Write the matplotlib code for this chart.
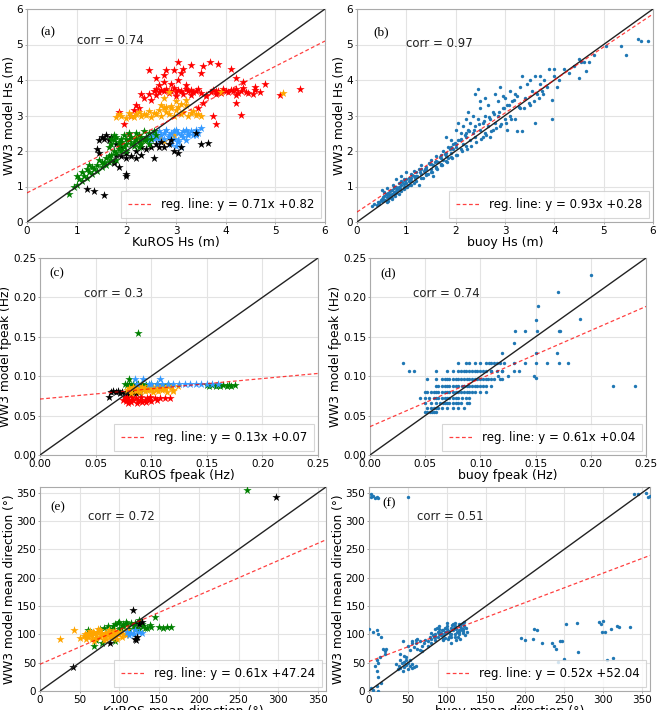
import matplotlib
matplotlib.use("Agg")
import matplotlib.pyplot as plt
import numpy as np

# ---------------- Panel (a): KuROS Hs vs WW3 Hs (five groups) ----------------
a_red_x = [2.45,2.55,2.6,2.65,2.7,2.75,2.8,2.85,2.9,2.95,3.0,3.05,3.1,3.15,3.2,3.25,3.3,3.35,3.4,3.45,3.5,3.6,3.7,3.75,3.8,3.85,3.9,3.95,4.0,4.05,4.1,4.15,4.2,4.25,4.3,4.35,4.4,4.45,
           2.6,3.0,3.3,3.8,4.2,
           2.45,2.6,2.75,2.8,2.95,3.05,3.1,3.15,3.05,3.3,3.5,3.55,3.68,3.85,4.1,4.2,4.35,4.6,4.8,2.75,2.65,2.3,2.35,2.5,2.2,2.25,1.85,1.95,2.15,2.1,2.05,3.55,3.45,4.2,4.3,3.75,3.8,5.1,5.5,4.6,4.7,4.55,3.2,2.9,3.6]
a_red_y = [3.6,3.7,3.75,3.65,3.72,3.68,3.75,3.62,3.7,3.78,3.66,3.72,3.7,3.6,3.76,3.68,3.72,3.65,3.7,3.74,3.62,3.58,3.66,3.72,3.68,3.7,3.64,3.76,3.7,3.66,3.72,3.68,3.74,3.62,3.7,3.78,3.66,3.64,
           3.58,3.56,3.58,3.6,3.58,
           4.28,4.05,4.15,4.28,4.28,4.52,4.2,4.3,4.0,4.42,4.2,4.4,4.52,4.45,4.3,4.05,3.95,3.8,3.9,3.95,3.85,3.6,3.5,3.45,3.3,3.2,3.1,2.75,3.15,3.0,2.48,3.35,3.2,3.35,3.02,2.98,2.75,3.58,3.75,3.72,3.65,3.6,3.85,3.9,3.55]
a_org_x = [1.8,1.85,1.9,2.0,2.05,2.1,2.15,2.2,2.25,2.3,2.35,2.4,2.45,2.5,2.55,2.6,2.65,2.7,2.75,2.8,2.85,2.9,2.95,3.0,3.05,3.1,3.15,3.2,3.25,3.3,3.35,3.4,3.45,3.5,
           2.7,2.9,3.1,3.0,2.8,2.75,3.2,2.85,3.9,5.15,2.3,2.7,2.75,2.95,2.6,2.2]
a_org_y = [2.95,3.05,3.0,2.92,3.08,3.0,2.95,3.05,3.1,2.98,3.05,3.02,3.12,2.95,3.08,3.05,3.15,3.0,3.2,3.1,3.05,3.22,3.0,3.15,3.25,3.05,3.1,3.3,3.0,3.08,3.12,3.02,3.05,3.0,
           3.3,3.28,3.32,3.4,3.25,3.5,3.45,3.65,3.65,3.62,2.3,2.35,2.28,2.45,2.4,2.4]
a_blu_x = [2.3,2.4,2.5,2.55,2.6,2.65,2.7,2.75,2.8,2.85,2.9,2.95,3.0,3.05,3.1,3.15,3.2,3.25,3.3,3.35,3.4,3.45,3.5,2.45,2.55,2.65,2.75,2.85,2.95,3.05,3.15,3.25,
           3.0,3.05,3.1,2.9,3.2,3.4]
a_blu_y = [2.35,2.4,2.45,2.5,2.4,2.55,2.45,2.5,2.6,2.45,2.5,2.55,2.6,2.5,2.45,2.55,2.6,2.5,2.55,2.45,2.6,2.5,2.65,2.3,2.35,2.3,2.35,2.4,2.35,2.3,2.4,2.45,
           2.15,2.25,2.1,2.2,2.3,2.45]
a_blk_x = [1.2,1.35,1.55,2.0,2.0,1.85,1.75,1.4,1.45,1.5,1.6,1.7,1.65,1.55,1.45,1.8,1.9,2.0,2.1,2.2,2.3,2.55,2.65,2.75,2.85,2.9,2.95,3.05,3.1,3.5,3.65,3.4,2.4,2.3,2.2,1.9,2.5,2.6,2.7,2.0,1.8,1.75]
a_blk_y = [0.93,0.88,0.75,1.3,1.35,1.55,1.65,2.05,1.95,2.4,2.45,2.4,2.3,2.35,2.3,2.2,1.85,1.8,1.85,1.8,1.9,1.8,2.1,2.1,2.2,2.3,2.0,1.95,2.1,2.2,2.22,2.5,2.05,2.1,2.0,2.1,2.1,2.2,2.25,1.95,1.9,1.7]
a_grn_x = [0.85,0.95,1.0,1.05,1.1,1.15,1.2,1.2,1.25,1.3,1.3,1.35,1.4,1.4,1.45,1.5,1.5,1.55,1.6,1.6,1.65,1.65,1.7,1.7,1.75,1.8,1.8,1.85,1.9,1.1,1.0,1.25,
           1.7,1.75,1.8,1.85,1.9,1.95,2.0,2.05,2.1,2.15,2.2,2.25,2.3,2.35,2.4,2.45,1.75,1.85,1.95,2.05,2.15,2.25,2.35,2.45,2.5,1.65,1.7,2.0,2.1,2.2,2.3,2.4,2.55,2.6,1.9,2.0,2.25]
a_grn_y = [0.8,0.98,1.05,1.2,1.15,1.3,1.25,1.5,1.4,1.35,1.55,1.5,1.6,1.45,1.75,1.55,1.7,1.65,1.8,1.6,1.85,1.7,1.9,1.75,2.0,1.95,1.75,2.05,2.0,1.4,1.3,1.6,
           2.2,2.3,2.4,2.25,2.35,2.45,2.2,2.3,2.4,2.25,2.35,2.45,2.2,2.3,2.4,2.5,2.45,2.15,2.1,2.5,2.15,2.25,2.55,2.2,2.35,2.1,2.35,2.35,2.2,2.5,2.4,2.3,2.55,2.45,2.25,2.0,2.1]

# ---------------- Panel (b): buoy Hs vs WW3 Hs ----------------
b_x = [0.3,0.35,0.4,0.45,0.5,0.5,0.55,0.55,0.6,0.6,0.62,0.65,0.68,0.7,0.7,0.72,0.75,0.78,0.8,0.8,0.85,0.85,0.88,0.9,0.9,0.95,0.95,1.0,1.0,1.05,1.05,1.1,1.1,1.15,1.2,1.25,
       1.25,1.3,1.3,1.35,1.4,1.4,1.45,1.5,1.5,1.55,1.55,1.6,1.6,1.65,1.7,1.7,1.75,1.75,1.8,1.8,1.85,1.85,1.9,1.9,1.95,1.95,2.0,2.0,2.0,2.05,2.05,2.1,2.1,2.15,2.15,
       2.2,2.2,2.2,2.25,2.25,2.3,2.3,2.35,2.35,2.4,2.4,2.4,2.45,2.45,2.5,2.5,2.5,2.55,2.55,2.6,2.6,2.6,2.65,2.65,2.7,2.7,2.75,2.75,2.8,2.8,2.85,2.85,2.9,2.9,2.95,
       3.0,3.0,3.05,3.05,3.1,3.1,3.15,3.2,3.2,3.25,3.3,3.3,3.35,3.35,3.4,3.45,3.5,3.5,3.55,3.6,3.6,3.65,3.7,3.7,3.75,3.8,3.85,3.9,3.95,3.95,4.0,4.0,4.05,4.1,4.2,
       4.3,4.4,4.5,4.5,4.6,4.65,4.7,4.8,5.05,5.35,5.45,5.7,5.75,5.9,4.55,3.25,2.95,
       0.42,0.48,0.52,0.58,0.63,0.66,0.74,0.82,0.92,0.98,1.08,1.12,1.18,1.28,1.38,1.48,1.58,1.68,1.78,1.88,1.98,2.08,2.18,2.28,2.38,2.48,2.58,2.68,2.78,2.88,2.98,3.08,3.18,3.28,
       0.57,0.64,0.76,0.86,0.96,1.02,1.16,1.22,1.34,1.44,1.52,1.62,1.72,1.82,1.92,2.02,2.12,2.22,2.32,2.42,2.52,2.62,2.72,2.82,2.92,3.02,3.12,3.38,3.48,3.58,3.68,3.78,
       0.45,0.5,0.55,0.6,0.65,0.7,0.75,0.8,0.85,0.9,0.95,1.0,1.05,1.1,1.15,1.2,1.3,1.4,1.5,1.6,1.7,1.8,1.9,2.0,2.1,2.2,0.6,0.7,0.8,0.9,1.0,1.1,1.2,1.3,1.4,1.5,1.6,1.7,1.8,1.9]
b_y = [0.45,0.5,0.48,0.55,0.6,0.9,0.85,0.62,0.7,0.95,0.6,0.8,0.75,0.9,0.65,1.05,0.85,0.72,1.0,1.2,0.9,1.1,0.95,1.3,1.05,1.2,0.98,1.1,1.4,1.25,1.05,1.35,1.15,1.45,1.3,1.05,
       1.5,1.35,1.6,1.45,1.55,1.35,1.65,1.5,1.75,1.6,1.3,1.85,1.55,1.7,1.9,1.6,2.0,1.75,1.85,2.4,2.1,1.8,2.3,1.95,2.2,2.05,2.6,2.1,1.9,2.3,2.8,2.5,2.05,2.2,2.7,
       2.4,2.9,2.15,2.6,3.1,2.8,2.3,2.5,3.0,2.7,3.6,2.4,2.9,3.75,2.6,3.2,3.4,2.8,2.4,3.0,2.5,3.5,2.7,3.3,2.9,2.4,3.1,2.6,3.6,2.8,3.0,3.4,3.8,2.7,3.2,
       3.5,2.9,3.3,2.6,3.7,3.0,3.4,2.9,3.6,2.55,3.2,3.8,4.1,2.55,3.5,3.9,3.3,4.0,3.7,2.8,4.1,3.6,3.9,4.1,3.7,4.0,3.8,4.3,3.45,2.9,4.1,4.3,3.8,4.0,4.3,
       4.2,4.4,4.6,4.05,4.5,4.25,4.5,4.7,4.95,4.95,4.7,5.15,5.1,5.1,4.5,3.55,3.55,
       0.55,0.62,0.7,0.78,0.82,0.88,0.98,0.92,1.12,1.15,1.2,1.32,1.25,1.42,1.48,1.62,1.68,1.82,1.92,2.05,2.22,2.3,2.45,2.55,2.6,2.75,2.85,2.95,3.05,3.1,3.2,3.3,3.45,3.25,
       0.62,0.68,0.8,0.78,0.92,1.0,1.1,1.3,1.25,1.35,1.42,1.48,1.6,1.7,1.8,1.9,2.0,2.05,2.15,2.25,2.35,2.45,2.55,2.65,2.75,2.8,2.9,3.2,3.35,3.4,3.5,3.6,
       0.5,0.65,0.72,0.8,0.7,0.78,0.95,0.88,1.0,1.15,1.08,1.2,1.15,1.25,1.3,1.4,1.5,1.5,1.62,1.72,1.8,1.95,2.1,2.2,2.35,2.5,0.55,0.68,0.82,0.88,1.0,1.05,1.15,1.25,1.32,1.42,1.52,1.62,1.72,1.82]

# ---------------- Panel (c): KuROS fpeak vs WW3 fpeak ----------------
c_blk_x = [0.062,0.064,0.066,0.068,0.07,0.072,0.074,0.076,0.078,0.08,0.082,0.084,0.086,0.088,0.09,0.078]
c_blk_y = [0.073,0.08,0.081,0.08,0.081,0.079,0.08,0.078,0.077,0.079,0.078,0.08,0.079,0.08,0.08,0.075]
c_red_x = [0.075,0.077,0.078,0.08,0.082,0.084,0.086,0.088,0.09,0.092,0.094,0.096,0.098,0.1,0.103,0.105,0.108,0.112,0.117,0.076,0.079,0.083,0.087,0.091,0.095,0.099]
c_red_y = [0.07,0.068,0.072,0.07,0.067,0.07,0.072,0.068,0.07,0.067,0.07,0.072,0.07,0.068,0.072,0.07,0.072,0.072,0.072,0.073,0.066,0.073,0.066,0.073,0.067,0.073]
c_grn_x = [0.076,0.078,0.08,0.082,0.084,0.086,0.088,0.09,0.092,0.095,0.1,0.105,0.11,0.115,0.15,0.152,0.155,0.158,0.16,0.162,0.165,0.168,0.17,0.172,0.175,0.088,0.08]
c_grn_y = [0.09,0.089,0.09,0.088,0.09,0.089,0.09,0.088,0.09,0.089,0.09,0.09,0.089,0.09,0.089,0.088,0.089,0.088,0.089,0.088,0.089,0.088,0.089,0.088,0.089,0.155,0.097]
c_org_x = [0.078,0.08,0.082,0.084,0.086,0.088,0.09,0.092,0.094,0.096,0.098,0.1,0.102,0.104,0.106,0.108,0.11,0.112,0.115,0.118,0.12,0.124,0.082,0.086,0.09,0.094,0.098,0.102,0.106,0.11,0.114,0.12]
c_org_y = [0.083,0.085,0.082,0.086,0.084,0.087,0.083,0.086,0.085,0.082,0.087,0.084,0.086,0.083,0.087,0.085,0.086,0.084,0.087,0.086,0.083,0.087,0.079,0.081,0.08,0.081,0.082,0.08,0.081,0.082,0.08,0.081]
c_blu_x = [0.085,0.093,0.108,0.1,0.105,0.11,0.115,0.12,0.125,0.13,0.135,0.14,0.145,0.15,0.155,0.16,0.098,0.087]
c_blu_y = [0.096,0.096,0.097,0.09,0.09,0.09,0.09,0.09,0.09,0.09,0.09,0.09,0.09,0.09,0.09,0.09,0.09,0.09]

# ---------------- Panel (d): buoy fpeak vs WW3 fpeak ----------------
d_x = [0.03,0.035,0.04,0.22,0.24,0.2,0.17,0.152,0.15,0.19,0.171,0.172,0.151,0.14,0.131,0.13,0.12,0.15,0.169,0.14,0.15,0.16,0.171,0.179,0.13,0.121,0.149,0.15,0.125,0.13,0.12,0.116,0.11,
       0.052,0.054,0.056,0.058,0.06,0.05,
       0.052,0.055,0.058,0.06,0.062,0.065,0.07,0.075,0.08,0.085,
       0.05,0.055,0.06,0.063,0.066,0.07,0.072,0.078,0.082,0.088,0.09,0.068,0.075,0.08,
       0.045,0.05,0.053,0.058,0.06,0.065,0.07,0.075,0.08,0.083,0.087,0.09,0.062,0.068,0.072,0.078,
       0.052,0.055,0.06,0.065,0.068,0.072,0.075,0.078,0.08,0.082,0.085,0.088,0.09,0.095,0.1,0.105,0.058,0.062,0.07,0.092,0.05,
       0.06,0.065,0.068,0.07,0.075,0.078,0.08,0.083,0.085,0.088,0.09,0.092,0.095,0.1,0.105,0.11,0.062,0.072,0.097,0.102,
       0.052,0.06,0.065,0.068,0.072,0.075,0.078,0.08,0.085,0.088,0.09,0.095,0.1,0.105,0.11,0.112,0.118,0.12,0.07,0.082,0.092,0.097,0.102,0.107,
       0.07,0.075,0.08,0.085,0.09,0.095,0.1,0.105,0.11,0.12,0.135,0.082,0.087,0.092,0.097,0.102,0.115,0.06,
       0.08,0.087,0.09,0.095,0.1,0.105,0.108,0.11,0.112,0.115,0.118]
d_y = [0.117,0.107,0.107,0.088,0.088,0.228,0.207,0.189,0.171,0.173,0.157,0.157,0.157,0.157,0.157,0.142,0.129,0.129,0.129,0.117,0.117,0.117,0.117,0.117,0.117,0.117,0.1,0.098,0.1,0.107,0.107,0.1,0.107,
       0.0546,0.0546,0.0546,0.0546,0.0546,0.0546,
       0.06,0.06,0.06,0.06,0.06,0.06,0.06,0.06,0.06,0.06,
       0.066,0.066,0.066,0.066,0.066,0.066,0.066,0.066,0.066,0.066,0.066,0.066,0.066,0.066,
       0.0727,0.0727,0.0727,0.0727,0.0727,0.0727,0.0727,0.0727,0.0727,0.0727,0.0727,0.0727,0.0727,0.0727,0.0727,0.0727,
       0.08,0.08,0.08,0.08,0.08,0.08,0.08,0.08,0.08,0.08,0.08,0.08,0.08,0.08,0.08,0.08,0.08,0.08,0.08,0.08,0.08,
       0.088,0.088,0.088,0.088,0.088,0.088,0.088,0.088,0.088,0.088,0.088,0.088,0.088,0.088,0.088,0.088,0.088,0.088,0.088,0.088,
       0.0967,0.0967,0.0967,0.0967,0.0967,0.0967,0.0967,0.0967,0.0967,0.0967,0.0967,0.0967,0.0967,0.0967,0.0967,0.0967,0.0967,0.0967,0.0967,0.0967,0.0967,0.0967,0.0967,0.0967,
       0.1064,0.1064,0.1064,0.1064,0.1064,0.1064,0.1064,0.1064,0.1064,0.1064,0.1064,0.1064,0.1064,0.1064,0.1064,0.1064,0.1064,0.1064,
       0.117,0.117,0.117,0.117,0.117,0.117,0.117,0.117,0.117,0.117,0.117]

# ---------------- Panel (e): KuROS mean dir vs WW3 mean dir ----------------
e_grn_x = [60,68,78,90,95,100,105,110,115,120,125,130,135,140,145,150,155,160,165,80,85,100,105,120,125,95,88,92,98,102,108,112,118,128,132,138,75,70,260]
e_grn_y = [108,80,85,110,118,122,115,118,120,112,125,115,112,113,130,113,112,113,113,112,115,110,118,120,110,88,108,115,120,112,122,110,115,118,112,116,110,90,355]
e_org_x = [25,43,50,55,60,62,65,68,70,72,75,78,80,82,85,88,90,92,95,98,100,65,70,75,80,85,60,58,68,90,95,102,105,110,108,63,73,83,93,77,87,97,67,57,103]
e_org_y = [91,108,93,97,95,100,92,102,98,105,95,100,97,103,99,95,100,104,98,102,100,98,93,108,90,105,103,92,88,94,106,104,100,107,98,106,110,92,96,103,108,92,105,100,96]
e_blu_x = [110,115,118,125,128,120,112]
e_blu_y = [104,103,100,105,102,108,98]
e_blk_x = [42,88,117,120,121,125,128,297,122]
e_blk_y = [42,84,143,92,90,118,122,342,96]

# ---------------- Panel (f): buoy mean dir vs WW3 mean dir ----------------
f_x = [2,5,8,3,10,12,50,340,345,355,357,360,
       70,72,75,78,80,82,85,88,90,92,95,98,100,102,105,108,110,112,115,118,120,122,125,75,80,85,90,95,100,105,110,115,120,
       80,85,90,95,100,105,110,115,120,85,90,95,100,105,110,115,118,122,60,65,68,55,62,58,
       92,97,103,107,113,117,88,93,98,104,109,114,119,123,83,87,96,101,106,111,116,121,124,
       35,38,40,42,45,48,50,52,55,58,40,45,50,55,60,37,43,47,53,43,
       50,55,60,65,68,62,52,45,48,40,
       0,5,10,12,15,18,20,10,12,8,10,12,15,10,5,2,12,20,14,22,
       195,200,210,212,215,222,235,237,240,245,247,242,250,253,267,268,295,297,300,298,302,305,312,310,318,320,335]
f_y = [348,345,340,342,342,340,342,348,348,350,342,345,
       85,90,88,95,92,98,100,96,105,102,108,104,110,106,112,108,115,110,118,112,120,115,105,80,85,90,100,98,105,95,100,108,102,
       102,95,110,92,115,100,120,105,110,110,115,90,120,85,95,100,118,122,85,88,80,88,92,78,
       98,112,96,118,104,92,104,108,94,100,112,96,108,98,95,112,100,92,116,90,114,106,112,
       48,45,40,50,42,46,38,44,40,42,55,52,50,48,45,38,36,60,55,88,
       80,85,90,72,70,75,72,62,55,65,
       110,105,108,100,95,75,70,55,50,45,35,25,15,8,2,5,0,65,60,75,
       93,90,92,110,108,85,85,80,75,88,88,52,57,118,120,68,122,118,123,105,104,55,58,110,115,113,113]

# regression fits (slope, intercept) and legend labels
reg_slope = [0.713, 0.93, 0.13, 0.61, 0.61, 0.52]
reg_inter = [0.82, 0.28, 0.071, 0.036, 47.24, 52.04]
reg_labels = ["reg. line: y = 0.71x +0.82", "reg. line: y = 0.93x +0.28",
              "reg. line: y = 0.13x +0.07", "reg. line: y = 0.61x +0.04",
              "reg. line: y = 0.61x +47.24", "reg. line: y = 0.52x +52.04"]
corr_labels = ["corr = 0.74", "corr = 0.97", "corr = 0.3", "corr = 0.74", "corr = 0.72", "corr = 0.51"]
panel_labels = ["(a)", "(b)", "(c)", "(d)", "(e)", "(f)"]
xlabels = ["KuROS Hs (m)", "buoy Hs (m)", "KuROS fpeak (Hz)", "buoy fpeak (Hz)",
           "KuROS mean direction (°)", "buoy mean direction (°)"]
ylabels = ["WW3 model Hs (m)", "WW3 model Hs (m)", "WW3 model fpeak (Hz)", "WW3 model fpeak (Hz)",
           "WW3 model mean direction (°)", "WW3 model mean direction (°)"]
limits = [6, 6, 0.25, 0.25, 360, 360]
tick_sets = [np.arange(0, 7, 1), np.arange(0, 7, 1), np.arange(0, 0.26, 0.05), np.arange(0, 0.26, 0.05),
             np.arange(0, 351, 50), np.arange(0, 351, 50)]
# text placement (axes fractions): panel label, corr text
plab_pos = [(0.045, 0.89), (0.054, 0.89), (0.032, 0.92), (0.036, 0.92), (0.035, 0.90), (0.046, 0.92)]
corr_pos = [(0.168, 0.854), (0.165, 0.84), (0.16, 0.82), (0.157, 0.82), (0.167, 0.853), (0.17, 0.853)]

W, H = 665, 710
fig = plt.figure(figsize=(W / 100, H / 100), dpi=100)
# pixel boxes (left, right, top, bottom)
boxes = [(27, 325, 9, 222), (357, 653, 9, 222),
         (40, 318, 258, 455), (370, 646, 258, 455),
         (40, 326, 487, 691), (369, 650, 487, 691)]
axes = []
for (l, r, t, b) in boxes:
    ax = fig.add_axes([l / W, 1 - b / H, (r - l) / W, (b - t) / H])
    axes.append(ax)

star_kw = dict(marker='*', s=40, linewidths=0, zorder=3)
dot_kw = dict(marker='o', s=6, linewidths=0, color='#1f77b4', zorder=3)

# (a)
ax = axes[0]
ax.scatter(a_red_x, a_red_y, color='red', **star_kw)
ax.scatter(a_org_x, a_org_y, color='orange', **star_kw)
ax.scatter(a_blu_x, a_blu_y, color='#3399ff', **star_kw)
ax.scatter(a_blk_x, a_blk_y, color='black', **star_kw)
ax.scatter(a_grn_x, a_grn_y, color='green', **star_kw)
# (b)
axes[1].scatter(b_x, b_y, **dot_kw)
# (c)
ax = axes[2]
ax.scatter(c_blk_x, c_blk_y, color='black', **star_kw)
ax.scatter(c_red_x, c_red_y, color='red', **star_kw)
ax.scatter(c_grn_x, c_grn_y, color='green', **star_kw)
ax.scatter(c_org_x, c_org_y, color='orange', **star_kw)
ax.scatter(c_blu_x, c_blu_y, color='#3399ff', **star_kw)
# (d)
axes[3].scatter(d_x, d_y, **dot_kw)
# (e)
ax = axes[4]
ax.scatter(e_grn_x, e_grn_y, color='green', **star_kw)
ax.scatter(e_org_x, e_org_y, color='orange', **star_kw)
ax.scatter(e_blu_x, e_blu_y, color='#3399ff', **star_kw)
ax.scatter(e_blk_x, e_blk_y, color='black', **star_kw)
# (f)
axes[5].scatter(f_x, f_y, **dot_kw)

for i, ax in enumerate(axes):
    lim = limits[i]
    xx = np.array([0, lim])
    ax.plot(xx, xx, color='#222222', lw=1.0, zorder=4)
    ax.plot(xx, reg_slope[i] * xx + reg_inter[i], color='red', ls='--', lw=0.9, alpha=0.75,
            dashes=(3, 2), zorder=5, label=reg_labels[i])
    ax.set_xlim(0, lim)
    ax.set_ylim(0, lim)
    ax.set_xticks(tick_sets[i])
    ax.set_yticks(tick_sets[i])
    if lim < 1:
        ax.set_xticklabels([f"{v:.2f}" for v in tick_sets[i]])
        ax.set_yticklabels([f"{v:.2f}" for v in tick_sets[i]])
    ax.tick_params(labelsize=7.5, length=1.5, width=0.6, color='#999999', pad=1.2)
    ax.grid(True, color='#e3e3e3', lw=0.8)
    ax.set_axisbelow(True)
    for sp in ax.spines.values():
        sp.set_color('#aaaaaa')
        sp.set_linewidth(0.8)
    ax.set_xlabel(xlabels[i], fontsize=9, labelpad=0.5)
    ax.set_ylabel(ylabels[i], fontsize=8.8, labelpad=0.5)
    ax.text(plab_pos[i][0], plab_pos[i][1], panel_labels[i], transform=ax.transAxes, fontsize=9.5,
            family='Liberation Serif', va='center', ha='left')
    ax.text(corr_pos[i][0], corr_pos[i][1], corr_labels[i], transform=ax.transAxes, fontsize=8.5,
            va='center', ha='left', color='#222222')
    leg = ax.legend(loc='lower right', fontsize=8.5, frameon=True, fancybox=False,
                    borderpad=0.6, handlelength=2.0, borderaxespad=0.3)
    leg.get_frame().set_edgecolor('#cccccc')
    leg.get_frame().set_linewidth(0.8)

fig.savefig("out.png", dpi=100)
